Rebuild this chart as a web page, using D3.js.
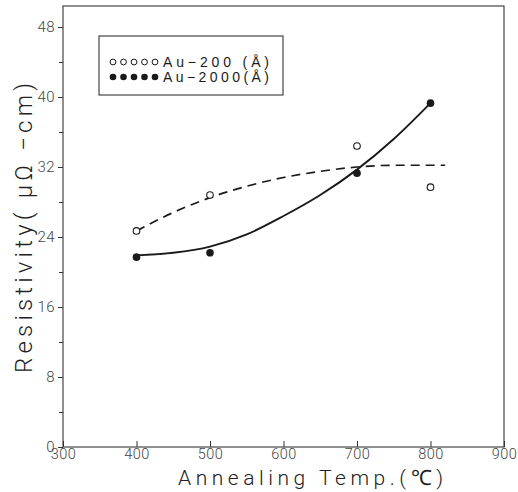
<!DOCTYPE html>
<html>
<head>
<meta charset="utf-8">
<script src="https://cdn.jsdelivr.net/npm/d3@7"></script>
<style>
  html, body { margin: 0; padding: 0; background: #fff; }
  svg { display: block; }
  text { font-family: "Liberation Sans", "DejaVu Sans", sans-serif; }
  .light { font-family: "Roboto", "Liberation Sans", sans-serif; font-weight: 300; }
</style>
</head>
<body>
<svg id="chart" width="518" height="492"></svg>
<script>
// Measured points
const temps = [400, 500, 700, 800];
const au200 = [24.7, 28.8, 34.4, 29.7];
const au2000 = [21.7, 22.2, 31.3, 39.3];

// Fitted trend lines
const fit200T = [400, 450, 500, 550, 600, 650, 700, 750, 820];
const fit200V = [24.7, 26.8, 28.5, 29.8, 30.8, 31.5, 32.0, 32.2, 32.2];
const fit2000T = [400, 450, 500, 550, 600, 650, 700, 750, 800];
const fit2000V = [21.9, 22.2, 22.9, 24.3, 26.4, 28.8, 31.7, 35.2, 39.3];

// Axis ticks
const xTicks = [300, 400, 500, 600, 700, 800, 900];
const yTicks = [0, 8, 16, 24, 32, 40, 48];
const yMinor = [4, 12, 20, 28, 36, 44];

const legendLabels = ["Au\u2212200 (\u00c5)", "Au\u22122000(\u00c5)"];

const svg = d3.select("#chart");
const L = 63, R = 504, T = 6, B = 447;

const x = d3.scaleLinear().domain([300, 900]).range([L, R]);
const y = d3.scaleLinear().domain([0, 50.4]).range([B, T]);

const ink = "#1a1a1a";

// Frame
svg.append("rect")
  .attr("x", L).attr("y", T).attr("width", R - L).attr("height", B - T)
  .attr("fill", "none").attr("stroke", "#333").attr("stroke-width", 1.1);

// X axis: ticks pointing into the plot
const xAxis = svg.append("g")
  .attr("transform", `translate(0,${B})`)
  .call(d3.axisBottom(x).tickValues(xTicks).tickSizeInner(-6).tickSizeOuter(0).tickPadding(3));
xAxis.select(".domain").remove();
xAxis.selectAll("line").attr("stroke", "#333");
xAxis.selectAll("text")
  .attr("class", "light")
  .attr("font-size", 14.5).attr("letter-spacing", 0.5).attr("fill", "#444").attr("dy", "0.6em");

// Y axis: major ticks with labels, minor ticks between
const yAxis = svg.append("g")
  .attr("transform", `translate(${L},0)`)
  .call(d3.axisLeft(y).tickValues(yTicks).tickSize(5).tickPadding(3));
yAxis.select(".domain").remove();
yAxis.selectAll("line").attr("stroke", "#333");
yAxis.selectAll("text")
  .attr("class", "light")
  .attr("font-size", 15).attr("letter-spacing", 0.4).attr("fill", "#444");

const yAxisMinor = svg.append("g")
  .attr("transform", `translate(${L},0)`)
  .call(d3.axisLeft(y).tickValues(yMinor).tickSize(4).tickFormat(""));
yAxisMinor.select(".domain").remove();
yAxisMinor.selectAll("line").attr("stroke", "#333");

// Trend lines
const line = d3.line().curve(d3.curveMonotoneX)
  .x(d => x(d[0])).y(d => y(d[1]));

svg.append("path")
  .datum(fit200T.map((t, i) => [t, fit200V[i]]))
  .attr("d", line)
  .attr("fill", "none").attr("stroke", ink).attr("stroke-width", 1.7)
  .attr("stroke-dasharray", "9,6");

svg.append("path")
  .datum(fit2000T.map((t, i) => [t, fit2000V[i]]))
  .attr("d", line)
  .attr("fill", "none").attr("stroke", ink).attr("stroke-width", 1.9);

// Markers
svg.append("g").selectAll("circle")
  .data(temps.map((t, i) => [t, au200[i]]))
  .join("circle")
  .attr("cx", d => x(d[0])).attr("cy", d => y(d[1])).attr("r", 3.3)
  .attr("fill", "#fff").attr("stroke", ink).attr("stroke-width", 1.1);

svg.append("g").selectAll("circle")
  .data(temps.map((t, i) => [t, au2000[i]]))
  .join("circle")
  .attr("cx", d => x(d[0])).attr("cy", d => y(d[1])).attr("r", 3.8)
  .attr("fill", ink);

// Legend
const lg = svg.append("g");
lg.append("rect")
  .attr("x", 99).attr("y", 36).attr("width", 184).attr("height", 59)
  .attr("fill", "#fff").attr("stroke", "#333").attr("stroke-width", 1.1);
const legendRows = [{ y: 62, open: true }, { y: 77, open: false }];
legendRows.forEach((row, r) => {
  const g = lg.append("g");
  g.selectAll("circle")
    .data(d3.range(5))
    .join("circle")
    .attr("cx", i => 113 + i * 10.5).attr("cy", row.y)
    .attr("r", row.open ? 2.9 : 3.3)
    .attr("fill", row.open ? "#fff" : ink)
    .attr("stroke", ink).attr("stroke-width", row.open ? 1 : 0);
  g.append("text")
    .attr("x", 163).attr("y", row.y + 5)
    .attr("font-size", 14).attr("fill", ink)
    .attr("textLength", 106).attr("lengthAdjust", "spacing")
    .text(legendLabels[r]);
});

// Axis titles
svg.append("text")
  .attr("class", "light")
  .attr("x", 178).attr("y", 485)
  .attr("font-size", 21).attr("fill", "#222")
  .attr("textLength", 265).attr("lengthAdjust", "spacing")
  .text("Annealing  Temp.(\u2103)");

svg.append("text")
  .attr("class", "light")
  .attr("transform", "translate(32,373) rotate(-90)")
  .attr("font-size", 24).attr("fill", "#222")
  .attr("textLength", 290).attr("lengthAdjust", "spacing")
  .text("Resistivity( \u03bc\u03a9 \u2212cm)");
</script>
</body>
</html>
